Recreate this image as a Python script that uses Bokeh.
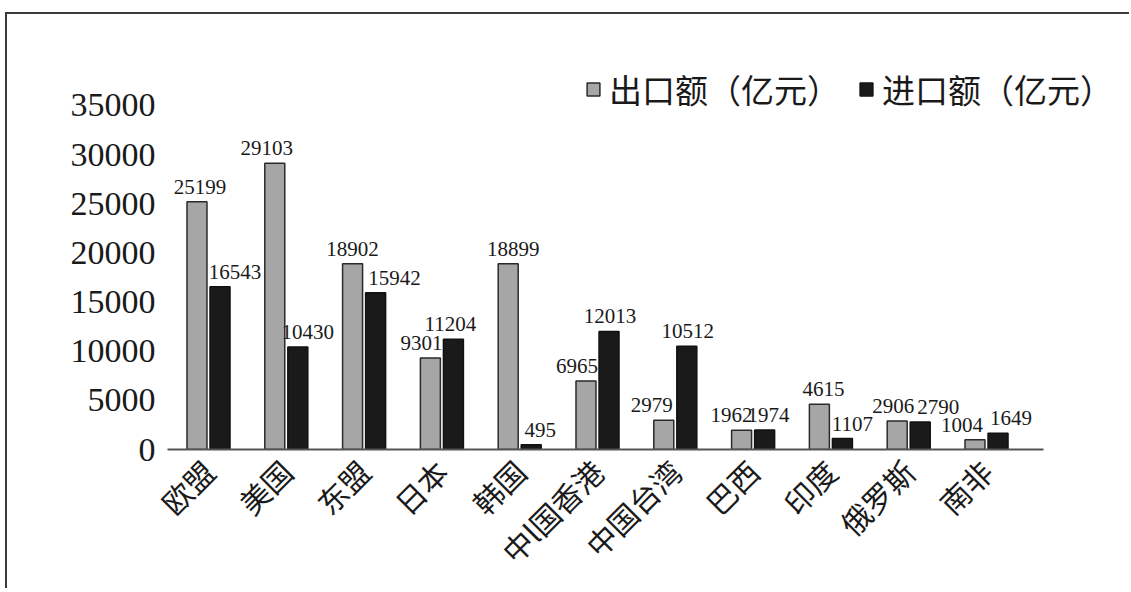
import math
from bokeh.plotting import figure
from bokeh.models import ColumnDataSource, Range1d, FixedTicker, Legend, LegendItem
from bokeh.transform import dodge
from bokeh.core.properties import value
from bokeh.embed import file_html
from bokeh.resources import INLINE

# ---- data ----
categories = ["欧盟", "美国", "东盟", "日本", "韩国", "中l国香港", "中国台湾", "巴西", "印度", "俄罗斯", "南非"]
exports = [25199, 29103, 18902, 9301, 18899, 6965, 2979, 1962, 4615, 2906, 1004]
imports = [16543, 10430, 15942, 11204, 495, 12013, 10512, 1974, 1107, 2790, 1649]
y_ticks = [0, 5000, 10000, 15000, 20000, 25000, 30000, 35000]
series_names = ["出口额（亿元）", "进口额（亿元）"]

# label nudges (screen px, styling only)
exp_label_nudge = [3, -8, 0, -9, 5, -9, -12, -10, 4, -4, -13]
imp_label_nudge = [15, 10, 19, -3, 9, 1, 1, 4, 10, 18, 13]

idx = list(range(len(categories)))
src = ColumnDataSource(dict(
    idx=idx,
    exp=exports,
    imp=imports,
    exp_label=[str(v) for v in exports],
    imp_label=[str(v) for v in imports],
    exp_dx=exp_label_nudge,
    imp_dx=imp_label_nudge,
))

x_start, x_axis_end, x_end = -0.527, 10.733, 11.748

p = figure(width=1124, height=576, output_backend="svg", toolbar_location=None,
           x_range=Range1d(x_start, x_end), y_range=Range1d(0, 39565),
           min_border_left=160, min_border_right=9, min_border_top=46, min_border_bottom=140)
p.styles = {"border-left": "2px solid #3a3a3a", "border-top": "2px solid #3a3a3a",
            "margin-top": "12px", "margin-left": "5px"}
p.outline_line_color = None
p.xgrid.grid_line_color = None
p.ygrid.grid_line_color = None
p.background_fill_color = "white"
p.border_fill_color = "white"

off = 0.148
bw = 0.257
r_exp = p.vbar(x=dodge("idx", -off, range=p.x_range), top="exp", width=bw, source=src,
               fill_color="#a6a6a6", line_color="#2a2a2a", line_width=1.5)
r_imp = p.vbar(x=dodge("idx", off, range=p.x_range), top="imp", width=bw, source=src,
               fill_color="#1a1a1a", line_color="#111111", line_width=1.5)

lab_font = value("Liberation Serif")
p.text(x=dodge("idx", -off, range=p.x_range), y="exp", text="exp_label", source=src,
       text_align="center", text_baseline="bottom", y_offset=-8, x_offset="exp_dx",
       text_font=lab_font, text_font_size="21px", text_color="#1a1a1a")
p.text(x=dodge("idx", off, range=p.x_range), y="imp", text="imp_label", source=src,
       text_align="center", text_baseline="bottom", y_offset=-8, x_offset="imp_dx",
       text_font=lab_font, text_font_size="21px", text_color="#1a1a1a")

# y axis
p.yaxis.ticker = FixedTicker(ticks=y_ticks)
p.yaxis.axis_line_color = None
p.yaxis.major_tick_line_color = None
p.yaxis.major_tick_out = 0
p.yaxis.major_tick_in = 0
p.yaxis.minor_tick_line_color = None
p.yaxis.major_label_standoff = 12
p.yaxis.major_label_text_font = "Liberation Serif"
p.yaxis.major_label_text_font_size = "34px"
p.yaxis.major_label_text_color = "#1a1a1a"

# x axis
p.xaxis.ticker = FixedTicker(ticks=idx)
p.xaxis.bounds = (x_start, x_axis_end)
p.xaxis.major_label_overrides = {i: c for i, c in zip(idx, categories)}
p.xaxis.major_label_orientation = math.pi / 4
p.xaxis.axis_line_color = "#555555"
p.xaxis.axis_line_width = 2
p.xaxis.major_tick_line_color = None
p.xaxis.minor_tick_line_color = None
p.xaxis.major_label_standoff = 10
p.xaxis.major_label_text_font = "Noto Sans CJK SC"
p.xaxis.major_label_text_font_size = "30px"
p.xaxis.major_label_text_color = "#1a1a1a"

legend = Legend(items=[LegendItem(label=series_names[0], renderers=[r_exp]),
                       LegendItem(label=series_names[1], renderers=[r_imp])],
                orientation="horizontal", location=(418, 336),
                border_line_color=None, background_fill_alpha=0,
                padding=0, margin=0, spacing=18, label_standoff=8,
                glyph_width=16, glyph_height=16,
                label_text_font="Noto Sans CJK SC", label_text_font_size="33px",
                label_text_color="#1a1a1a")
p.add_layout(legend)

open("out.html", "w").write(file_html(p, INLINE))
